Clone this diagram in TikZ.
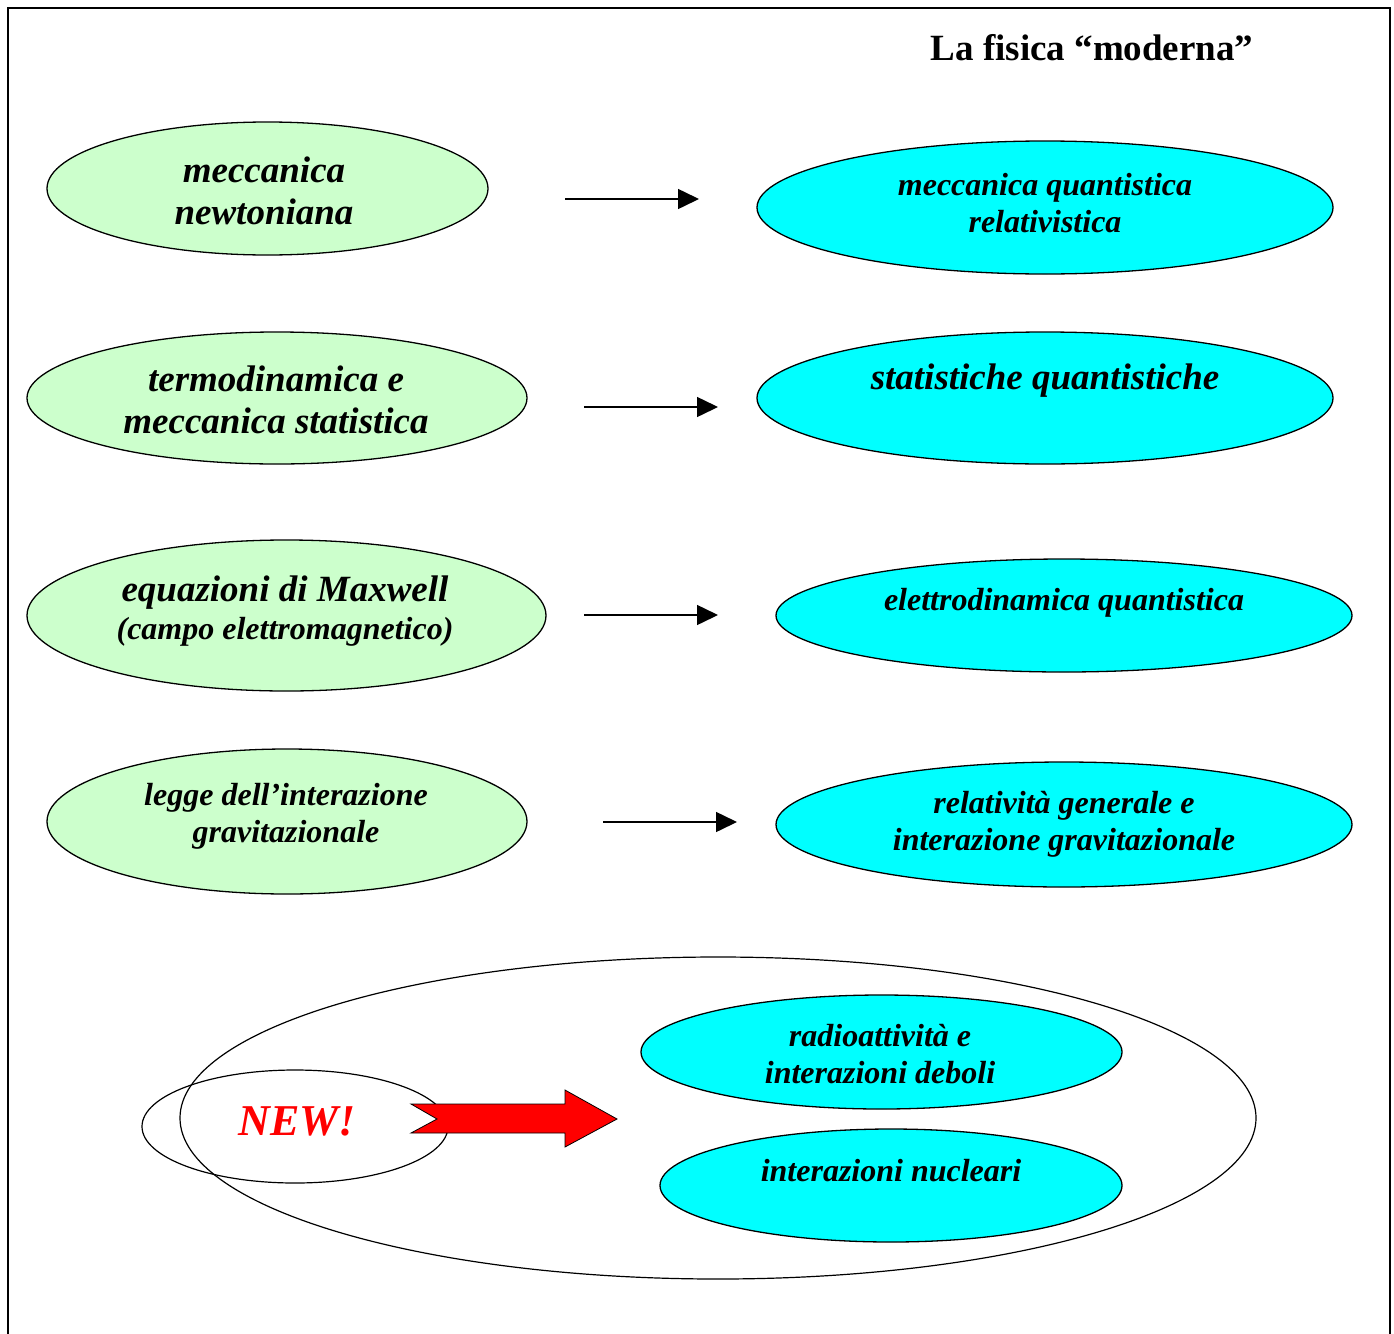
\documentclass[tikz,border=0pt]{standalone}
\usepackage{fontspec}
\setmainfont{Liberation Serif}
\usetikzlibrary{shapes.geometric,arrows.meta}
\definecolor{lgreen}{RGB}{204,255,204}
\definecolor{cyanc}{RGB}{0,255,255}
\begin{document}
\begin{tikzpicture}[x=1pt,y=-1pt,
  ell/.style={ellipse,draw=black,line width=1.3pt,inner sep=0pt},
  oldell/.style={ell,fill=lgreen},
  newell/.style={ell,fill=cyanc},
  bigtxt/.style={font=\fontsize{37}{42}\selectfont\bfseries\itshape,align=center,inner sep=0pt},
  smtxt/.style={font=\fontsize{32}{37}\selectfont\bfseries\itshape,align=center,inner sep=0pt},
  conn/.style={line width=1.5pt,-{Triangle[length=21pt,width=20pt]}}
]
\useasboundingbox (0,0) rectangle (1394,1333);
\fill[white] (0,0) rectangle (1394,1333);
% frame
\draw[line width=2pt] (8,1334) -- (8,8) -- (1390,8) -- (1390,1334);
% title
\node[font=\fontsize{37}{40}\selectfont\bfseries,inner sep=0pt] (title) at (1092,48) {La fisica ``moderna''};

% left ellipses
\node[oldell,minimum width=441pt,minimum height=133pt] (mn) at (267.5,188.5) {};
\node[bigtxt] (mnt) at (264,191) {meccanica\\newtoniana};
\node[oldell,minimum width=500pt,minimum height=132pt] (tm) at (277,398) {};
\node[bigtxt] (tmt) at (276,400) {termodinamica e\\meccanica statistica};
\node[oldell,minimum width=519pt,minimum height=151pt] (eq) at (286.5,615.5) {};
\node[bigtxt] (eqt) at (285,593) {equazioni di Maxwell};
\node[smtxt] (eqt2) at (285,632) {(campo elettromagnetico)};
\node[oldell,minimum width=480pt,minimum height=145pt] (lg) at (287,821.5) {};
\node[smtxt] (lgt) at (286,816) {legge dell’interazione\\gravitazionale};

% right ellipses
\node[newell,minimum width=576pt,minimum height=133pt] (mq) at (1045,207.5) {};
\node[smtxt] (mqt) at (1045,203) {meccanica quantistica\\relativistica};
\node[newell,minimum width=576pt,minimum height=132pt] (sq) at (1045,398) {};
\node[bigtxt] (sqt) at (1045,381) {statistiche quantistiche};
\node[newell,minimum width=576pt,minimum height=113pt] (ed) at (1064,615.5) {};
\node[smtxt] (edt) at (1064,603) {elettrodinamica quantistica};
\node[newell,minimum width=576pt,minimum height=125pt] (rg) at (1064,824.5) {};
\node[smtxt] (rgt) at (1064,824.5) {relatività generale e\\interazione gravitazionale};

% arrows
\coordinate (a1s) at (565,199); \coordinate (a1e) at (699,199);
\coordinate (a2s) at (584,407); \coordinate (a2e) at (718,407);
\coordinate (a3s) at (584,615); \coordinate (a3e) at (718,615);
\coordinate (a4s) at (603,822); \coordinate (a4e) at (737,822);
\draw[conn] (a1s) -- (a1e);
\draw[conn] (a2s) -- (a2e);
\draw[conn] (a3s) -- (a3e);
\draw[conn] (a4s) -- (a4e);

% bottom group
\node[ell,line width=1.2pt,minimum width=1076pt,minimum height=322pt] (big) at (718,1118) {};
\node[ell,line width=1.2pt,minimum width=306pt,minimum height=113pt] (nw) at (295,1126.5) {};
\node[font=\fontsize{44}{48}\selectfont\bfseries\itshape,text=red,inner sep=0pt] (nwt) at (297,1121) {NEW!};
\node[newell,minimum width=481pt,minimum height=114pt] (ra) at (881.5,1052) {};
\node[smtxt] (rat) at (880,1054) {radioattività e\\interazioni deboli};
\node[newell,minimum width=462pt,minimum height=113pt] (nu) at (891,1185.5) {};
\node[smtxt] (nut) at (891,1171) {interazioni nucleari};

% red block arrow
\draw[fill=red,draw=black,line width=0.8pt,line join=miter]
  (411,1104) -- (565,1104) -- (565,1090) -- (617,1119) -- (565,1147)
  -- (565,1133) -- (411,1133) -- (437,1119) -- cycle;
\end{tikzpicture}
\end{document}
